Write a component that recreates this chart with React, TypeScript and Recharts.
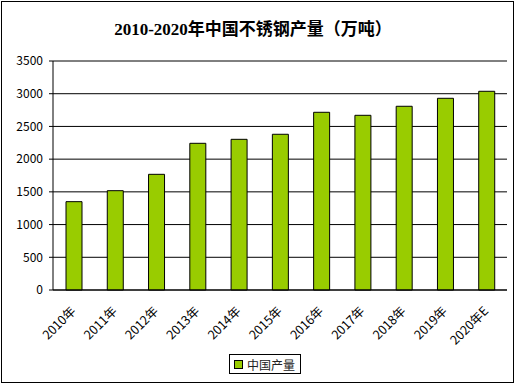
import { Bar, BarChart, CartesianGrid, Legend, ReferenceLine, XAxis, YAxis } from "recharts"

const years = ["2010年", "2011年", "2012年", "2013年", "2014年", "2015年", "2016年", "2017年", "2018年", "2019年", "2020年E"]
const output = [1350, 1518, 1768, 2242, 2303, 2380, 2716, 2670, 2808, 2930, 3037]
const yTicks = [0, 500, 1000, 1500, 2000, 2500, 3000, 3500]
const seriesName = "中国产量"
const title = "2010-2020年中国不锈钢产量（万吨）"

const data = years.map((year, i) => ({ year, value: output[i] }))

const font = "'Noto Sans CJK SC', 'DejaVu Sans', sans-serif"

function XTick(props: any) {
  const { x, y, payload } = props
  const px = x - 1
  const py = y + 10
  return (
    <text
      x={px}
      y={py}
      transform={`rotate(-45, ${px}, ${py})`}
      textAnchor="end"
      dominantBaseline="central"
      fontSize={12.5}
      fontFamily={font}
      fill="#000"
    >
      {payload.value}
    </text>
  )
}

function LegendBox() {
  return (
    <div style={{ display: "flex", justifyContent: "flex-start", paddingLeft: 221 }}>
      <div
        style={{
          display: "flex",
          alignItems: "center",
          border: "1px solid #000",
          background: "#fff",
          height: 18,
          padding: "0 5px 0 4px",
          fontFamily: font,
          fontSize: 12,
          color: "#222",
        }}
      >
        <span style={{ width: 7, height: 7, background: "#99CC00", border: "1px solid #000", marginRight: 4 }} />
        {seriesName}
      </div>
    </div>
  )
}

export default function App() {
  return (
    <div style={{ position: "absolute", left: 0, top: 0, width: 518, height: 385, background: "#fff" }}>
      <div
        style={{
          position: "absolute",
          left: 1,
          top: 1,
          width: 513,
          height: 382,
          boxSizing: "border-box",
          border: "1px solid #000",
        }}
      />
      <div
        style={{
          position: "absolute",
          left: 0,
          top: 19,
          width: 506,
          textAlign: "center",
          fontFamily: "'Liberation Serif', 'Noto Sans CJK SC', serif",
          fontWeight: "bold",
          fontSize: 17,
          color: "#000",
          lineHeight: "22px",
        }}
      >
        {title}
      </div>
      <div style={{ position: "absolute", left: 0, top: 0 }}>
        <BarChart width={518} height={385} data={data} margin={{ top: 61, right: 11, bottom: 11, left: 8 }}>
          <CartesianGrid vertical={false} stroke="#000" strokeOpacity={1} />
          <XAxis
            dataKey="year"
            interval={0}
            height={64}
            tickLine={false}
            axisLine={{ stroke: "#000" }}
            tick={<XTick />}
          />
          <YAxis
            domain={[0, 3500]}
            ticks={yTicks}
            width={45}
            tickSize={4}
            tickMargin={6}
            tickLine={{ stroke: "#000" }}
            axisLine={{ stroke: "#000" }}
            tick={{ fill: "#000", fontSize: 12, fontFamily: font }}
          />
          <YAxis
            yAxisId="r"
            orientation="right"
            domain={[0, 3500]}
            width={0}
            tick={false}
            tickLine={false}
            axisLine={{ stroke: "#808080" }}
          />
          <ReferenceLine y={3500} stroke="#808080" />
          <Legend verticalAlign="bottom" height={20} content={<LegendBox />} />
          <Bar
            dataKey="value"
            name={seriesName}
            fill="#99CC00"
            stroke="#000"
            strokeWidth={1}
            barSize={16}
            isAnimationActive={false}
          />
        </BarChart>
      </div>
    </div>
  )
}
